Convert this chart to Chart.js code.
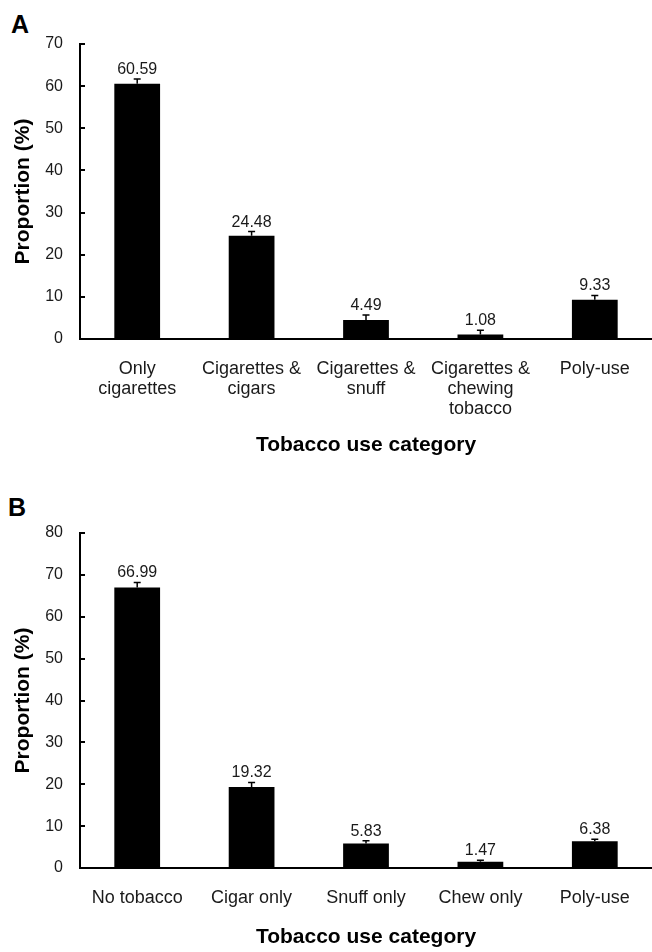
<!DOCTYPE html>
<html><head><meta charset="utf-8">
<script src="https://cdn.jsdelivr.net/npm/chart.js@4.4.1/dist/chart.umd.min.js"></script>
<style>
html,body{margin:0;padding:0;background:#fff;width:652px;height:952px;overflow:hidden}
.panel{position:absolute;left:0;width:652px}
.letter{position:absolute;font:bold 25px "Liberation Sans",Arial,sans-serif;line-height:25px;color:#000}
</style></head><body>
<div class="letter" style="top:12px;left:11px">A</div>
<div class="panel" style="top:0;height:470px"><canvas id="cA"></canvas></div>
<div class="letter" style="top:495px;left:8px">B</div>
<div class="panel" style="top:476px;height:476px"><canvas id="cB"></canvas></div>
<script>
// Panel A data
const categoriesA = [['Only','cigarettes'], ['Cigarettes &','cigars'], ['Cigarettes &','snuff'], ['Cigarettes &','chewing','tobacco'], 'Poly-use'];
const valuesA = [60.59, 24.48, 4.49, 1.08, 9.33];
const errorsA = [1.1, 1.0, 1.2, 1.0, 1.0];
const yMaxA = 70;
// Panel B data
const categoriesB = ['No tobacco', 'Cigar only', 'Snuff only', 'Chew only', 'Poly-use'];
const valuesB = [66.99, 19.32, 5.83, 1.47, 6.38];
const errorsB = [1.2, 1.1, 0.7, 0.4, 0.5];
const yMaxB = 80;
const yStep = 10;
const yTitle = 'Proportion (%)';
const xTitle = 'Tobacco use category';

const FONT = '"Liberation Sans", Arial, sans-serif';
const TXT = '#1a1a1a';

const errPlugin = {
  id: 'errLabels',
  afterDatasetsDraw(chart, args, opts) {
    const ctx = chart.ctx, meta = chart.getDatasetMeta(0), ys = chart.scales.y;
    const vals = chart.data.datasets[0].data, errs = opts.errors || [];
    ctx.save();
    meta.data.forEach((bar, i) => {
      const top = ys.getPixelForValue(vals[i] + (errs[i] || 0));
      ctx.strokeStyle = '#000'; ctx.lineWidth = 1.5;
      ctx.beginPath();
      ctx.moveTo(bar.x, bar.y); ctx.lineTo(bar.x, top);
      ctx.moveTo(bar.x - 3.5, top); ctx.lineTo(bar.x + 3.5, top);
      ctx.stroke();
      ctx.fillStyle = TXT; ctx.font = '16px ' + FONT;
      ctx.textAlign = 'center'; ctx.textBaseline = 'alphabetic';
      ctx.fillText(vals[i].toFixed(2), bar.x, top - 5);
    });
    ctx.restore();
  }
};

function makeChart(id, labels, values, errors, yMax, padTop, xScaleH, titlePadBottom) {
  return new Chart(document.getElementById(id), {
    type: 'bar',
    data: { labels: labels, datasets: [{ data: values, backgroundColor: '#000', borderWidth: 0, barPercentage: 0.4, categoryPercentage: 1.0 }] },
    options: {
      responsive: true, maintainAspectRatio: false, animation: false,
      layout: { padding: { top: padTop, right: 0, bottom: 0, left: 0 } },
      plugins: { legend: { display: false }, tooltip: { enabled: false }, errLabels: { errors: errors } },
      scales: {
        x: {
          grid: { display: false },
          border: { display: true, color: '#000', width: 2 },
          ticks: { color: TXT, font: { size: 18, family: FONT, lineHeight: 1.12 }, padding: 12, maxRotation: 0, autoSkip: false },
          title: { display: true, text: xTitle, color: '#000', font: { size: 21, weight: 'bold', family: FONT }, padding: { top: 0, bottom: titlePadBottom } },
          afterFit(s) { s.height = xScaleH; }
        },
        y: {
          min: 0, max: yMax,
          ticks: { stepSize: yStep, color: TXT, font: { size: 16, family: FONT }, padding: 22 },
          grid: { display: true, drawOnChartArea: false, drawTicks: true, tickLength: -5, color: '#000', lineWidth: 2 },
          border: { display: true, color: '#000', width: 2 },
          title: { display: true, text: yTitle, color: '#000', font: { size: 21, weight: 'bold', family: FONT }, padding: { top: 11, bottom: 0 } },
          afterFit(s) { s.width = 80; }
        }
      }
    },
    plugins: [errPlugin]
  });
}

makeChart('cA', categoriesA, valuesA, errorsA, yMaxA, 44, 131, 12.4);
makeChart('cB', categoriesB, valuesB, errorsB, yMaxB, 57, 84, 2.4);
</script>
</body></html>
